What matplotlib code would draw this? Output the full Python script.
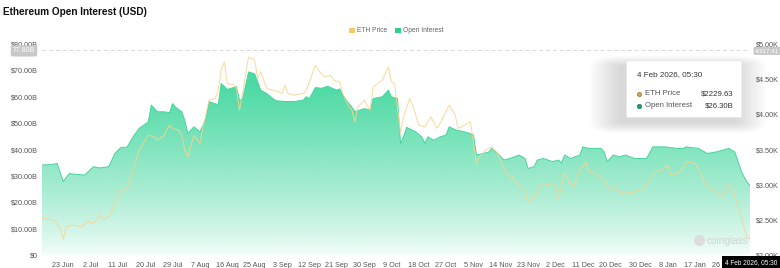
import pandas as pd
import numpy as np
import matplotlib.pyplot as plt
from matplotlib.patches import FancyBboxPatch, Polygon, Rectangle
from matplotlib.lines import Line2D

plt.rcParams['font.family'] = ['Liberation Sans', 'DejaVu Sans']

start = pd.Timestamp('2025-06-16')

# open interest (USD billions), x = days since start
oi_day = [0, 3, 5, 7, 9, 11, 14, 17, 19, 22, 24, 26, 28, 30, 32, 35, 36, 38, 40, 42,
          43, 44, 46, 47, 48, 50, 52, 54, 55, 58, 59, 61, 64, 65, 66, 68, 70, 72, 74, 76,
          77, 80, 83, 86, 87, 88, 90, 92, 94, 97, 98, 99, 101, 102, 103, 106, 108, 109, 112, 114,
          115, 117, 118, 119, 120, 123, 125, 126, 127, 129, 131, 133, 134, 136, 139, 141, 142, 143, 145, 147,
          148, 150, 152, 154, 157, 159, 160, 162, 163, 165, 168, 170, 171, 172, 174, 177, 178, 180, 184, 185,
          186, 188, 190, 192, 195, 199, 201, 205, 209, 211, 212, 216, 219, 222, 226, 228, 230, 231, 232, 233]
oi_val = [34.1, 34.3, 34.7, 27.8, 30.9, 30.6, 30.3, 33.5, 33.0, 33.5, 38.5, 40.8, 40.9, 44.8, 48.0, 50.5, 56.8, 54.3, 54.3, 54.0,
          57.4, 56.0, 54.3, 51.1, 46.1, 48.6, 46.7, 51.8, 58.1, 57.0, 65.0, 62.8, 63.8, 58.7, 59.0, 69.4, 68.7, 62.5, 61.2, 59.3,
          58.5, 58.2, 58.2, 58.7, 60.0, 59.3, 63.5, 63.2, 64.0, 62.5, 63.0, 60.6, 57.4, 56.0, 54.3, 55.5, 55.0, 59.3, 60.0, 62.5,
          60.0, 59.3, 42.3, 44.8, 48.4, 46.7, 44.8, 42.3, 44.8, 43.5, 44.8, 45.5, 48.6, 47.5, 46.7, 46.0, 45.5, 37.9, 38.5, 39.0,
          40.4, 38.5, 36.0, 36.6, 37.9, 36.6, 32.8, 33.5, 36.0, 36.6, 35.4, 36.0, 34.8, 37.9, 36.6, 37.9, 41.0, 40.4, 40.4, 39.1,
          35.4, 37.9, 37.2, 37.9, 36.6, 36.6, 41.0, 41.0, 40.4, 40.4, 41.0, 40.4, 38.5, 39.1, 40.4, 39.1, 32.2, 29.7, 27.8, 26.3]

# ETH price (USD)
px_day = [0, 4, 6, 7, 8, 10, 13, 15, 17, 19, 20, 22, 24, 26, 28, 30, 32, 35, 37, 38,
          40, 42, 43, 45, 46, 47, 48, 50, 52, 53, 55, 57, 58, 59, 60, 61, 63, 64, 65, 66,
          68, 70, 71, 72, 74, 76, 78, 79, 80, 81, 83, 86, 87, 90, 91, 93, 95, 96, 98, 99,
          101, 102, 103, 104, 106, 108, 109, 112, 114, 115, 116, 118, 119, 121, 122, 124, 126, 128, 130, 131,
          134, 136, 137, 140, 141, 143, 144, 146, 148, 150, 153, 155, 157, 159, 160, 162, 164, 167, 169, 170,
          172, 174, 175, 177, 179, 180, 182, 185, 187, 189, 190, 192, 195, 198, 201, 202, 204, 206, 207, 210,
          212, 215, 219, 221, 224, 226, 228, 229, 231, 232, 233]
px_val = [2521, 2497, 2379, 2223, 2402, 2426, 2402, 2473, 2450, 2568, 2500, 2544, 2734, 2923, 2946, 3207, 3491, 3704, 3680, 3633,
          3690, 3846, 3800, 3775, 3700, 3491, 3396, 3704, 3586, 3822, 4201, 4225, 4343, 4627, 4745, 4438, 4420, 4367, 4059, 4296,
          4816, 4769, 4509, 4604, 4367, 4343, 4320, 4296, 4414, 4296, 4272, 4296, 4343, 4698, 4627, 4532, 4555, 4485, 4461, 4296,
          4106, 4059, 3893, 4106, 4201, 4059, 4390, 4485, 4674, 4461, 4440, 3728, 3964, 4225, 4130, 3846, 3822, 3964, 3799, 3870,
          4130, 3990, 3799, 3870, 3893, 3302, 3396, 3491, 3538, 3444, 3136, 3112, 2970, 2923, 2734, 2828, 2970, 3018, 2970, 2805,
          3160, 3018, 2970, 3207, 3325, 3183, 3160, 3065, 2923, 2970, 2899, 2876, 2899, 2946, 3136, 3183, 3207, 3278, 3136, 3183,
          3325, 3302, 2970, 2923, 2828, 3018, 2828, 2686, 2402, 2260, 2230]

tick_dates = ['2025-06-23', '2025-07-02', '2025-07-11', '2025-07-20', '2025-07-29', '2025-08-07',
              '2025-08-16', '2025-08-25', '2025-09-03', '2025-09-12', '2025-09-21', '2025-09-30',
              '2025-10-09', '2025-10-18', '2025-10-27', '2025-11-05', '2025-11-14', '2025-11-23',
              '2025-12-02', '2025-12-11', '2025-12-20', '2025-12-30', '2026-01-08', '2026-01-17', '2026-01-26']
tick_labels = ['23 Jun', '2 Jul', '11 Jul', '20 Jul', '29 Jul', '7 Aug', '16 Aug', '25 Aug', '3 Sep',
               '12 Sep', '21 Sep', '30 Sep', '9 Oct', '18 Oct', '27 Oct', '5 Nov', '14 Nov', '23 Nov',
               '2 Dec', '11 Dec', '20 Dec', '30 Dec', '8 Jan', '17 Jan', '26 Jan']
left_ticks = [0, 10, 20, 30, 40, 50, 60, 70, 80]
right_ticks = [2000, 2500, 3000, 3500, 4000, 4500, 5000]

oi_x = np.array(oi_day, dtype=float)
oi_y = np.array(oi_val)
tick_x = [(pd.Timestamp(d) - start).days for d in tick_dates]

fig = plt.figure(figsize=(7.8, 2.68), dpi=100, facecolor='white')
ax = fig.add_axes([0.0538, 0.0485, 0.9077, 0.7873])
ax2 = ax.twinx()
ax.set_zorder(1)
ax2.set_zorder(2)
ax.set_facecolor('white')
ax2.patch.set_visible(False)

# gradient fill under open interest
xmax = oi_x[-1]
rows = np.linspace(0, 80, 300)
alpha = np.clip(0.05 + 0.95 * (rows / 66.0) ** 0.8, 0, 1)
grad = np.zeros((300, 2, 4))
grad[..., 0] = 74 / 255
grad[..., 1] = 217 / 255
grad[..., 2] = 162 / 255
grad[..., 3] = alpha[:, None]
im = ax.imshow(grad, extent=[0, xmax, 0, 80], origin='lower', aspect='auto', zorder=1)
poly = Polygon(np.vstack([np.column_stack([oi_x, oi_y]), [[xmax, 0], [0, 0]]]),
               closed=True, facecolor='none', edgecolor='none')
ax.add_patch(poly)
im.set_clip_path(poly)
ax.plot(oi_x, oi_y, color='#45d59d', lw=0.7, zorder=2)

ax2.plot(px_day, px_val, color='#f7d591', lw=0.75, alpha=0.85)

ax.set_xlim(0, xmax)
ax.set_ylim(0, 80)
ax2.set_ylim(2000, 5000)
ax.set_xticks(tick_x)
ax.set_xticklabels(tick_labels)
ax.set_yticks(left_ticks)
ax.set_yticklabels(['$0'] + [f'${v:.2f}B' for v in left_ticks[1:]])
ax2.set_yticks(right_ticks)
ax2.set_yticklabels([f'${v / 1000:.2f}K' for v in right_ticks])
for a in (ax, ax2):
    a.tick_params(length=0, labelsize=5.2, colors='#555555')
    for s in a.spines.values():
        s.set_visible(False)
ax.tick_params(axis='x', pad=5)
ax.tick_params(axis='y', pad=3)
ax2.tick_params(axis='y', pad=4.5)

# crosshair
ax.axhline(77.8, color='#d8d8d8', lw=0.7, ls=(0, (4, 3)), zorder=3)
ax.axvline(xmax, color='#d0d0d0', lw=0.7, zorder=3)
fig.text(0.0165, 0.81, '77.80B', fontsize=5, color='white', va='center', ha='left', zorder=10,
         bbox=dict(boxstyle='round,pad=0.3,rounding_size=0.2', fc='#c8c8c8', ec='none'))
fig.text(0.968, 0.81, '4,917.41', fontsize=4.4, color='white', va='center', ha='left', zorder=10,
         bbox=dict(boxstyle='round,pad=0.25,rounding_size=0.2', fc='#c8c8c8', ec='none'))
fig.text(0.929, 0.022, '4 Feb 2026, 05:30', fontsize=4.7, color='white', va='center', ha='left',
         zorder=10, bbox=dict(boxstyle='square,pad=0.4', fc='black', ec='none'))

# tooltip with soft shadow
tx0, ty0, tw, th = 0.806, 0.565, 0.142, 0.205
for i in range(14):
    p = 0.003 * (i + 1)
    fig.patches.append(FancyBboxPatch((tx0 - 0.008, ty0 - 0.02), tw, th, boxstyle=f'round,pad={p}',
                                      transform=fig.transFigure, fc='#7a7a7a', ec='none', alpha=0.018))
fig.patches.append(FancyBboxPatch((tx0, ty0), tw, th, boxstyle='round,pad=0.003',
                                  transform=fig.transFigure, fc='white', ec='#e6e6e6', lw=0.5))
fig.text(tx0 + 0.011, ty0 + 0.155, '4 Feb 2026, 05:30', fontsize=5.8, color='#333333', va='center')
fig.add_artist(Line2D([tx0 + 0.0135], [ty0 + 0.085], transform=fig.transFigure, marker='o',
                      ms=3.2, mfc='#c9a44a', mec='#8a7440', mew=0.4, ls='none'))
fig.text(tx0 + 0.021, ty0 + 0.085, 'ETH Price', fontsize=5.6, color='#555555', va='center')
fig.text(tx0 + tw - 0.008, ty0 + 0.085, '$2229.63', fontsize=5.6, color='#333333', va='center', ha='right')
fig.add_artist(Line2D([tx0 + 0.0135], [ty0 + 0.04], transform=fig.transFigure, marker='o',
                      ms=3.2, mfc='#1f9e6f', mec='#157050', mew=0.4, ls='none'))
fig.text(tx0 + 0.021, ty0 + 0.04, 'Open Interest', fontsize=5.6, color='#555555', va='center')
fig.text(tx0 + tw - 0.008, ty0 + 0.04, '$26.30B', fontsize=5.6, color='#333333', va='center', ha='right')

# watermark
fig.add_artist(Line2D([0.896], [0.103], transform=fig.transFigure, marker='o', ms=8,
                      mfc='#dddddd', mec='none', ls='none'))
fig.text(0.906, 0.1, 'coinglass', fontsize=7.2, color='#d2d2d2', va='center', ha='left')

# title and legend
fig.text(0.004, 0.955, 'Ethereum Open Interest (USD)', fontsize=7.2, fontweight='bold',
         color='#111111', va='center')
fig.patches.append(Rectangle((0.4475, 0.877), 0.007, 0.02, transform=fig.transFigure,
                             fc='#f4c96a', ec='none'))
fig.text(0.4575, 0.887, 'ETH Price', fontsize=4.8, color='#666666', va='center')
fig.patches.append(Rectangle((0.5065, 0.877), 0.007, 0.02, transform=fig.transFigure,
                             fc='#2fcf8d', ec='none'))
fig.text(0.5165, 0.887, 'Open Interest', fontsize=4.8, color='#666666', va='center')

fig.savefig('out.png', dpi=100, facecolor='white')
